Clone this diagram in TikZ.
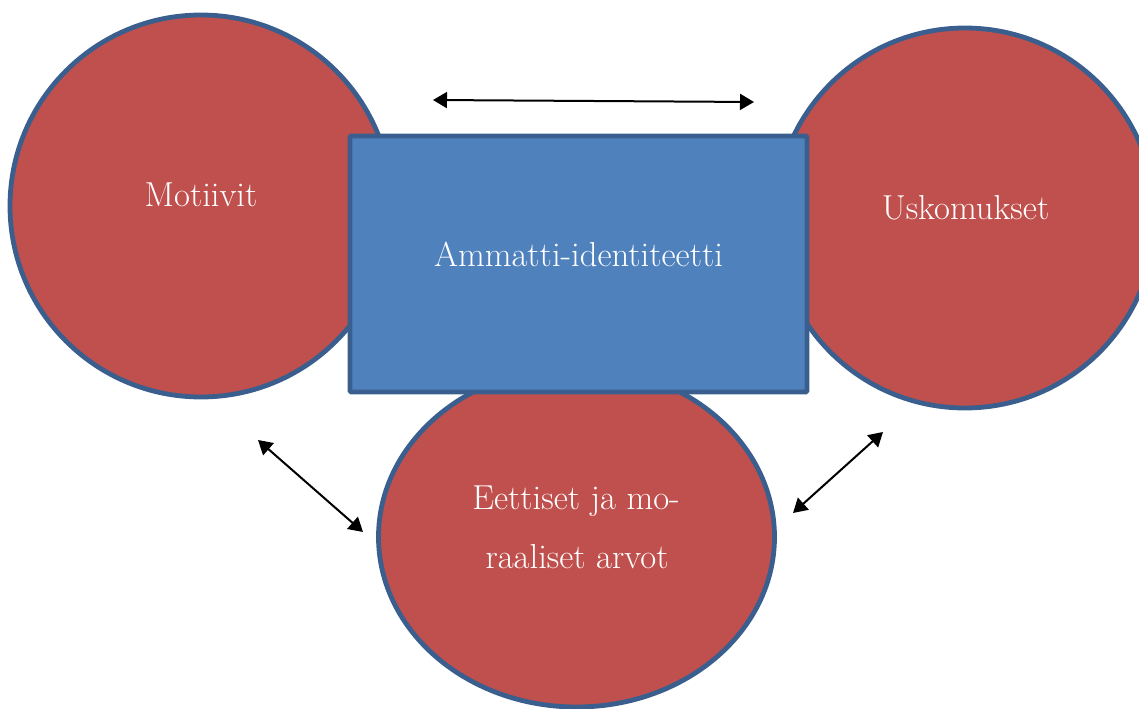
\documentclass[tikz,border=0pt]{standalone}
\usetikzlibrary{arrows.meta,shapes.geometric}
\definecolor{redfill}{HTML}{C0504D}
\definecolor{blueedge}{HTML}{3A5F8E}
\definecolor{bluefill}{HTML}{4F81BD}
\tikzset{
  redcircle/.style={circle,draw=blueedge,fill=redfill,line width=3.6pt,inner sep=0pt},
  redellipse/.style={ellipse,draw=blueedge,fill=redfill,line width=3.6pt,inner sep=0pt},
  bluebox/.style={rectangle,draw=blueedge,fill=bluefill,line width=3.6pt,inner sep=0pt,rounded corners=1pt},
  lbl/.style={text=white,font=\fontsize{26}{30}\selectfont,anchor=base,inner sep=0pt},
  dblarrow/.style={line width=1.5pt,{Triangle[length=10.5pt,width=12pt]}-{Triangle[length=10.5pt,width=12pt]}}
}
\begin{document}
\begin{tikzpicture}[x=0.75pt,y=-0.75pt]
\useasboundingbox (0,0) rectangle (1139,709);
\clip (0,0) rectangle (1139,709);
\node[redcircle,minimum size=286.5pt] (mot) at (201,206) {};
\node[redcircle,minimum size=285pt] (usk) at (965,218) {};
\node[redellipse,minimum width=297pt,minimum height=255pt] (eet) at (576.5,537) {};
\node[bluebox,minimum width=342.75pt,minimum height=192pt] (amm) at (578.5,264) {};
\node[lbl] (tmot) at (201,207) {Motiivit};
\node[lbl] (tusk) at (965.5,220) {Uskomukset};
\node[lbl] (tamm) at (578.5,267) {Ammatti-identiteetti};
\node[lbl] (teet1) at (576,509) {Eettiset ja mo-};
\node[lbl] (teet2) at (577,568) {raaliset arvot};
\coordinate (a1) at (433,100);
\coordinate (a2) at (754,102);
\coordinate (b1) at (258,440);
\coordinate (b2) at (363,532);
\coordinate (c1) at (793,513);
\coordinate (c2) at (883,432);
\draw[dblarrow] (a1) -- (a2);
\draw[dblarrow] (b1) -- (b2);
\draw[dblarrow] (c1) -- (c2);
\end{tikzpicture}
\end{document}
